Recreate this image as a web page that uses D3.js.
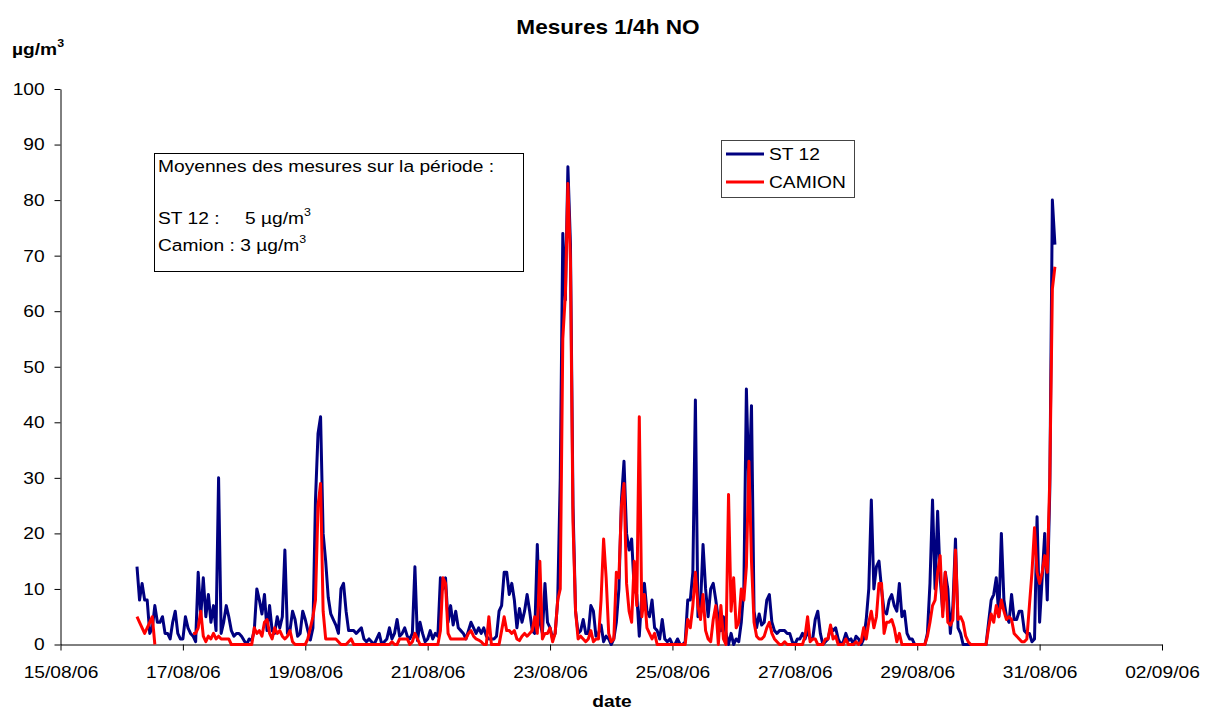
<!DOCTYPE html>
<html>
<head>
<meta charset="utf-8">
<title>Mesures 1/4h NO</title>
<script src="https://cdn.jsdelivr.net/npm/d3@7"></script>
<style>
  body { margin: 0; background: #fff; }
  text { font-family: "Liberation Sans", Arial, sans-serif; fill: #000; }
</style>
</head>
<body>
<svg id="chart" width="1205" height="712"></svg>
<script>
// hourly values, first row starts 16/08/06 06:00, then one row per day
var st12 = [
  14, 8, 11, 8, 8, 2, 3, 7, 4, 4, 5, 2, 2, 1, 4, 6, 2, 1,
  1, 5, 3, 2, 1.5, 0.5, 13, 5, 12, 5, 9, 4, 7, 2.5, 30, 2, 4, 7, 5, 2.5, 1.5, 2, 2, 1.5,
  0.7, 0, 1, 0.7, 2.5, 10, 8, 5.5, 9, 2.5, 7, 2.5, 2, 5, 3, 5, 17, 2, 2.5, 6, 4.5, 1.5, 2, 6,
  4.5, 2.5, 0.8, 3, 26, 38, 41, 20, 15, 8.5, 5.5, 4.5, 3.5, 2, 10, 11, 6, 2.5, 2.5, 2.5, 2, 2.5, 3, 1,
  0.5, 1, 0.5, 0, 1, 2, 0, 0.5, 1, 3, 1, 2, 4.5, 1.5, 2, 3, 1.5, 1, 2, 14, 0.7, 4, 2, 0.5,
  1, 2.5, 1, 2, 1.5, 12, 10, 12, 4, 7, 3.5, 6, 3, 2.5, 2, 1, 2.5, 4, 3, 2, 3, 2, 3, 1.5,
  1, 1, 1, 1.5, 6, 7, 13, 13, 9, 11, 8, 3, 6.5, 4, 6, 9, 6, 2.5, 2, 18, 4, 2, 11, 4,
  3, 1, 2, 8, 30, 74, 62, 86, 72, 25, 6, 2, 2.5, 4.5, 2, 2, 7, 6, 1.5, 2, 3.5, 0.5, 1.5, 1,
  0, 1, 4, 10, 26, 33, 20, 17, 19, 10, 9, 1.5, 9, 11, 6, 5, 8, 3, 2.5, 1, 4.5, 1, 0.5, 1,
  0, 0, 1, 0, 0, 0.5, 8, 8, 13, 44, 5, 7, 18, 10, 5, 10, 11, 8, 4.5, 2.5, 5, 2, 0, 2,
  0, 1, 0.5, 4, 10, 46, 28, 43, 6, 3, 5.5, 3.5, 4, 8, 9, 4, 2.5, 2, 2.5, 2.5, 2.5, 2, 2, 0.5,
  0, 1, 1, 2, 1, 2.5, 1, 1, 4.5, 6, 2, 0, 0.5, 1, 3, 2.5, 3, 1, 0, 0.5, 2, 0.7, 1, 0,
  1.5, 1, 0, 1, 4.5, 10, 26, 10, 14, 15, 10, 6, 5.5, 8, 9, 7, 6, 11, 5, 6, 2, 1, 1, 0,
  0, 0, 0, 0, 2, 11, 26, 10, 24, 12, 6, 13, 10, 2, 7, 19, 3, 2, 0, 0, 0, 0, 0, 0,
  0, 0, 0, 0, 4, 8, 9, 12, 5, 20, 8, 5, 4, 9, 4.5, 4.5, 6, 6, 2.5, 2, 2, 0.5, 1, 23,
  4, 12, 20, 8, 28, 80, 72
];
var camion = [
  5, 4, 3, 2, 3, 4, 5, 0, null, null, null, null, null, null, null, null, null, null,
  null, null, null, null, 2, 2, 3, 6, 1.5, 0.5, 1.5, 1, 2, 1, 1.5, 1, 1, 1, 1, 0, 0, 0, 0, 0,
  0, 0, 0, 0, 3, 2, 2.5, 1.5, 4, 4.5, 2, 1, 3, 2, 2.5, 1.5, 1, 1.5, 2.5, 0.5, 0, 0, 0, 0,
  0, 1, 3, 5, 8, 25, 29, 6, 1, 1, 1, 1, 1, 0.5, 0, 0, 0, 0.5, 1, 0, 0, 0, 0, 0,
  0, 0, 0, 0, 0, 0, 0, 0, 0, 0, 0.5, 0, 0, 1, 1, 1, 1, 0, 0.5, 2, 1, 0, 0, 0,
  0, 0, 0, 0, 0, 2.5, 12, 11, 2, 1, 1, 1, 1, 1, 1, 1, 2, 2.5, 1.5, 1, 0.8, 0.5, 0, 0,
  5, 0, 0, 0, 0, 2.5, 5, 2.5, 2.5, 2, 2.5, 1, 0.7, 1.5, 2, 1.5, 2, 2.5, 5, 2, 15, 1, 2, 2,
  3, 0.5, 2, 8, 10, 55, 63, 83, 69, 22, 6, 1, 1.5, 1, 0.5, 1, 2.5, 0.5, 1, 1, 8, 19, 12, 2,
  0.5, 1, 13, 12, 25, 29, 11, 6, 4, 15, 7, 41, 5, 9, 3, 2, 1, 2, 0, 0, 0, 0, 0, 0,
  0, 0, 0, 0, 0, 0, 4.5, 3, 7, 13, 7, 4.5, 9, 2.5, 1, 0.5, 4.5, 7, 0, 7, 1, 0, 27, 6,
  12, 3, 4, 10, 8, 14, 33, 15, 4, 1.5, 1, 1, 1.5, 3, 4, 2, 1, 0.5, 0, 0, 0.5, 0, 0, 0,
  0, 0, 0, 0, 1.5, 5, 0.5, 1, 1, 0, 0, 0, 1, 1, 3.5, 1, 1.5, 0, 0, 0, 1, 0, 0, 0,
  0.5, 0, 0.5, 3, 1, 4, 6, 3, 5, 11, 11, 2, 4, 4, 4.5, 3, 0.5, 2, 0, 0, 0, 0, 0, 0,
  0, 0, 0, 0, 1.5, 4, 7, 8, 13, 16, 5, 13, 4, 3.5, 4.5, 17, 4.5, 5, 4, 1.5, 0.5, 0, 0, 0,
  0, 0, 0, 0, 3, 5.5, 4, 7, 5, 8, 6, 4.5, 5, 4.5, 2, 1.5, 1, 0.5, 0.5, 1, 7, 13, 21, 13,
  11, 13, 16, 13, 30, 64, 68
];
var xTicks = ["15/08/06", "17/08/06", "19/08/06", "21/08/06", "23/08/06",
              "25/08/06", "27/08/06", "29/08/06", "31/08/06", "02/09/06"];
var yTicks = [0, 10, 20, 30, 40, 50, 60, 70, 80, 90, 100];
var seriesNames = ["ST 12", "CAMION"];
var seriesColors = ["#000080", "#ff0000"];
var meanLabels = ["ST 12 :", "Camion : 3 µg/m"];

var SX = 1.13; // the original text is a bit wider than tall
var parse = d3.timeParse("%d/%m/%y");
var start = new Date(2006, 7, 16, 6);

var svg = d3.select("#chart");

var x = d3.scaleTime()
    .domain([parse(xTicks[0]), parse(xTicks[xTicks.length - 1])])
    .range([60.5, 1162]);
var y = d3.scaleLinear().domain([0, 100]).range([644.5, 89]);

function label(g, px, py, txt, size, bold, anchor) {
    var t = g.append("g").attr("transform", "translate(" + px + "," + py + ")")
        .append("text")
        .attr("transform", "scale(" + SX + ",1)")
        .attr("font-size", size)
        .attr("font-weight", bold ? "bold" : "normal")
        .attr("text-anchor", anchor || "start")
        .text(txt);
    return t;
}

// title + axis titles
label(svg, 608, 34, "Mesures 1/4h NO", 20, true, "middle");
label(svg, 612, 707, "date", 17, true, "middle");
var yl = label(svg, 12, 55, "µg/m", 17, true);
yl.append("tspan").attr("font-size", 11).attr("dy", -8).text("3");

// axes
var xAxis = d3.axisBottom(x)
    .tickValues(xTicks.map(parse))
    .tickFormat(d3.timeFormat("%d/%m/%y"))
    .tickSize(6).tickSizeOuter(0).tickPadding(15);
var yAxis = d3.axisLeft(y)
    .tickValues(yTicks)
    .tickSize(6).tickSizeOuter(0).tickPadding(8);

var gx = svg.append("g").attr("transform", "translate(0," + y(0) + ")").call(xAxis);
var gy = svg.append("g").attr("transform", "translate(" + x.range()[0] + ",0)").call(yAxis);
[gx, gy].forEach(function (g) {
    g.attr("font-size", 17).attr("font-family", "Liberation Sans, Arial, sans-serif");
    g.selectAll("text").attr("fill", "#000").attr("transform", "scale(" + SX + ",1)");
    g.selectAll("line").attr("stroke", "#000");
    g.select(".domain").attr("stroke", "#000");
});

// series
function toPoints(arr) {
    return arr.map(function (v, i) { return { t: d3.timeHour.offset(start, i), v: v }; });
}
var line = d3.line()
    .defined(function (d) { return d.v !== null; })
    .x(function (d) { return x(d.t); })
    .y(function (d) { return y(d.v); });

[st12, camion].forEach(function (arr, i) {
    svg.append("path")
        .datum(toPoints(arr))
        .attr("fill", "none")
        .attr("stroke", seriesColors[i])
        .attr("stroke-width", 3)
        .attr("stroke-linejoin", "round")
        .attr("d", line);
});

// box with the means
var box = svg.append("g");
box.append("rect").attr("x", 154.5).attr("y", 153.5).attr("width", 369).attr("height", 118)
    .attr("fill", "#fff").attr("stroke", "#000");
label(box, 158, 172, "Moyennes des mesures sur la période :", 17);
label(box, 158, 224, meanLabels[0], 17);
var m1 = label(box, 245, 224, "5 µg/m", 17);
m1.append("tspan").attr("font-size", 11).attr("dy", -8).text("3");
var m2 = label(box, 158, 251, meanLabels[1], 17);
m2.append("tspan").attr("font-size", 11).attr("dy", -8).text("3");

// legend
var leg = svg.append("g");
leg.append("rect").attr("x", 721.5).attr("y", 140.5).attr("width", 133).attr("height", 57)
    .attr("fill", "#fff").attr("stroke", "#444");
seriesNames.forEach(function (name, i) {
    var ly = 154 + i * 28;
    leg.append("line").attr("x1", 726).attr("x2", 764).attr("y1", ly).attr("y2", ly)
        .attr("stroke", seriesColors[i]).attr("stroke-width", 3);
    label(leg, 769, ly + 6, name, 17);
});
</script>
</body>
</html>
